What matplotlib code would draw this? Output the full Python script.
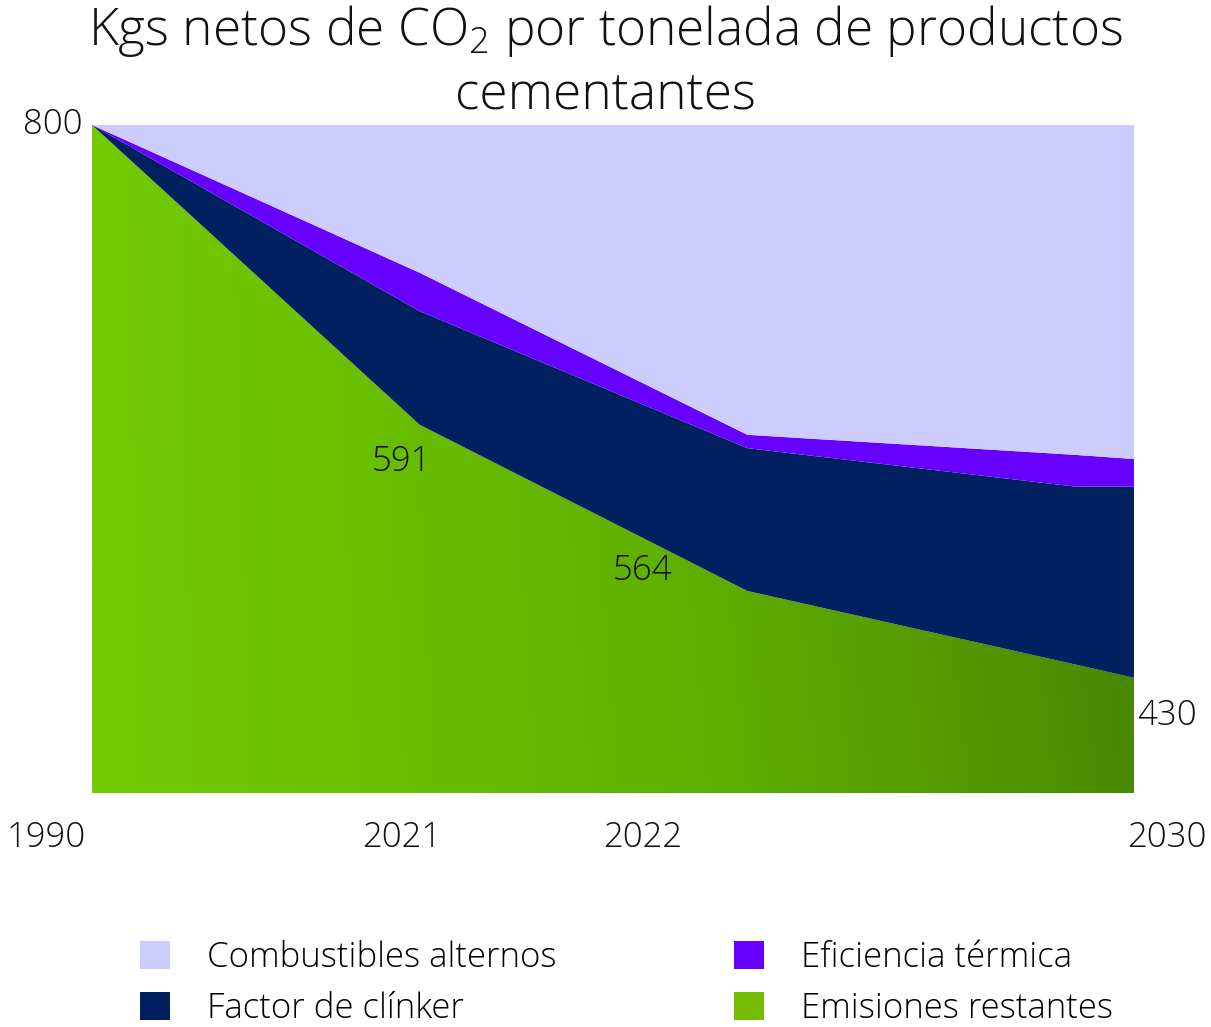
import matplotlib.pyplot as plt
import numpy as np
from matplotlib.colors import LinearSegmentedColormap
from matplotlib.patches import Patch

plt.rcParams['font.family'] = ['Open Sans', 'DejaVu Sans']
plt.rcParams['font.weight'] = 'light'
plt.rcParams['mathtext.default'] = 'regular'

# datos (kg CO2 / t), capas apiladas de abajo hacia arriba
x_vals = [0, 1, 2, 3, 3.18]
emisiones = [800, 441, 242, 154, 138]
clinker = [0, 136, 171, 213, 229]
eficiencia = [0, 46, 16, 38, 33]
combustibles = [0, 177, 371, 395, 400]

year_labels = ['1990', '2021', '2022', '2030']
year_pos = [-0.14, 0.945, 1.68, 3.28]
value_labels = ['591', '564', '430']
value_pos = [(0.945, 397), (1.68, 266), (3.28, 92)]

c_comb = '#CCCCFF'
c_efic = '#6600FF'
c_clink = '#002060'
c_emis = '#76BC00'

fig = plt.figure(figsize=(12.11, 10.27), dpi=100)
ax = fig.add_axes([0.076, 0.2278, 0.8604, 0.6505])

x = np.array(x_vals)
b1 = np.array(emisiones, dtype=float)
b2 = b1 + np.array(clinker)
b3 = b2 + np.array(eficiencia)
b4 = b3 + np.array(combustibles)

# área verde con degradado
poly = ax.fill_between(x, 0, b1, facecolor='none', edgecolor='none')
ax.set_xlim(0, x[-1])
ax.set_ylim(0, 800)
gx, gy = np.meshgrid(np.linspace(0, 1, 400), np.linspace(0, 1, 200))
grad = 0.9 * gx ** 1.2 + 0.1 * (1 - gy) * gx
cmap = LinearSegmentedColormap.from_list('verde', ['#72CA00', '#5EAE00', '#448000'])
im = ax.imshow(grad, cmap=cmap, extent=[0, x[-1], 0, 800], origin='upper',
               aspect='auto', zorder=1, vmin=0, vmax=1)
im.set_clip_path(poly.get_paths()[0], transform=ax.transData)

ax.fill_between(x, b1, b2, facecolor=c_clink, edgecolor='none', zorder=2)
ax.fill_between(x, b2, b3, facecolor=c_efic, edgecolor='none', zorder=2)
ax.fill_between(x, b3, b4, facecolor=c_comb, edgecolor='none', zorder=2)

for s in ax.spines.values():
    s.set_visible(False)
ax.set_xticks([])
ax.set_yticks([])

fs = 25
ax.text(-0.03, 800, '800', ha='right', va='center', fontsize=fs, color='#111111')
for lab, p in zip(year_labels, year_pos):
    ax.text(p, -53, lab, ha='center', va='center', fontsize=fs, color='#111111', clip_on=False)
for lab, (px, py) in zip(value_labels, value_pos):
    ax.text(px, py, lab, ha='center', va='center', fontsize=fs, color='#111111',
            clip_on=False, zorder=5)

fig.text(0.5, 0.997, 'Kgs netos de CO$_2$ por tonelada de productos\ncementantes',
         ha='center', va='top', fontsize=37, linespacing=1.25, color='#111111')

handles = [Patch(facecolor=c_comb), Patch(facecolor=c_clink),
           Patch(facecolor=c_efic), Patch(facecolor=c_emis)]
labels = ['Combustibles alternos', 'Factor de clínker',
          'Eficiencia térmica', 'Emisiones restantes']
fig.legend(handles, labels, ncol=2, loc='upper left', bbox_to_anchor=(0.1156, 0.084),
           frameon=False, fontsize=fs, handlelength=0.87, handleheight=0.87,
           handletextpad=1.07, columnspacing=5.1, labelspacing=0.48, borderpad=0, borderaxespad=0)

fig.savefig('out.png', dpi=100)
